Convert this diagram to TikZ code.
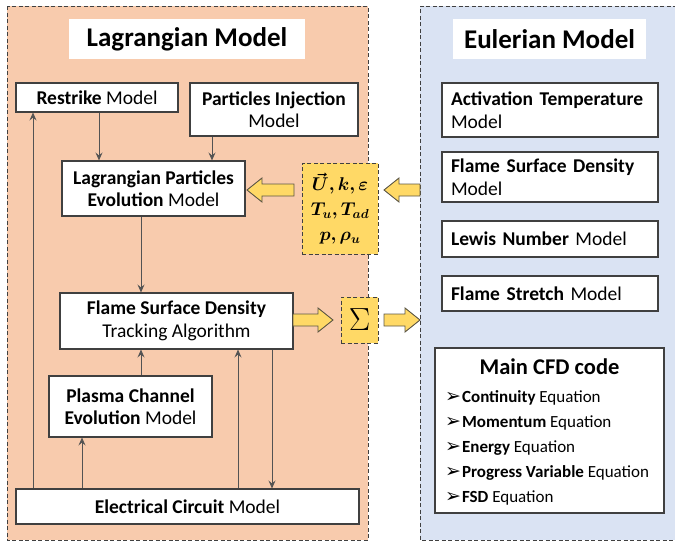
\RequirePackage{fix-cm}
\documentclass[tikz,border=0pt]{standalone}
\usepackage{amsmath,bm}
\usepackage{fontspec}
\setmainfont{Carlito}
\newfontfamily\dejavu{DejaVu Sans}
\usetikzlibrary{arrows.meta}
\definecolor{peach}{HTML}{F8CBAD}
\definecolor{paleblue}{HTML}{DAE3F3}
\definecolor{gold}{HTML}{FFD966}
\definecolor{edge}{HTML}{404040}
\newcommand\barrow[3]{%
  \pgfmathsetmacro\bdir{sign(#2-#1)}%
  \draw[blockarrow] (#1,#3-6) -- (#2-\bdir*15,#3-6) -- (#2-\bdir*15,#3-12) -- (#2,#3)
    -- (#2-\bdir*15,#3+12) -- (#2-\bdir*15,#3+6) -- (#1,#3+6) -- cycle;}
\newcommand\bul{{\dejavu\fontsize{19}{20}\selectfont ➢}}
\begin{document}
\begin{tikzpicture}[x=1pt,y=-1pt,
  outer/.style={draw=edge, line width=1pt, dash pattern=on 4pt off 2.5pt},
  box/.style={draw=edge, line width=1.1pt, fill=white, inner sep=0pt, align=center,
    font=\fontsize{19.5}{22.5}\selectfont},
  ebox/.style={box, minimum width=216, align=left, text width=198},
  title/.style={fill=white, inner sep=0pt, font=\fontsize{27}{32}\selectfont\bfseries},
  ybox/.style={draw=edge, line width=1pt, dash pattern=on 4pt off 2.5pt, fill=gold, inner sep=0pt, align=center},
  conn/.style={draw=edge!90, line width=0.8pt, -{Stealth[length=8pt,width=7pt,inset=3pt]}},
  blockarrow/.style={fill=gold, draw=edge!85!gold, line width=0.9pt, line join=miter},
  item/.style={anchor=base west, inner sep=0pt, font=\fontsize{17}{20}\selectfont}
]
\useasboundingbox (0,0) rectangle (675,541);
\clip (0,0) rectangle (675,541);

% outer panels
\fill[peach] (7,6) rectangle (368,540);
\draw[outer] (7,6) rectangle (368,540);
\fill[paleblue] (420,6) rectangle (690,540);
\draw[outer] (690,6) -- (420,6) -- (420,540) -- (690,540);

% titles
\node[title, minimum width=236, minimum height=40] (tl) at (187,39) {Lagrangian Model};
\node[title, minimum width=193, minimum height=40] (te) at (549.5,39) {Eulerian Model};

% Lagrangian boxes
\node[box, minimum width=162, minimum height=29] (restrike) at (97,97.5) {\textbf{Restrike} Model};
\node[box, minimum width=168, minimum height=53] (inj) at (274,109.5) {\textbf{Particles Injection}\\Model};
\node[box, minimum width=183, minimum height=55] (lpe) at (153.5,188.5) {\textbf{Lagrangian Particles}\\\textbf{Evolution} Model};
\node[box, minimum width=233, minimum height=56] (fsd) at (176.5,321) {\textbf{Flame Surface Density}\\Tracking Algorithm};
\node[box, minimum width=163, minimum height=61] (plasma) at (130.5,406.5) {\textbf{Plasma Channel}\\\textbf{Evolution} Model};
\node[box, minimum width=343, minimum height=35] (elec) at (187.5,506.5) {\textbf{Electrical Circuit} Model};

% exchange boxes
\node[ybox, minimum width=76, minimum height=91, font=\fontsize{18.5}{25}\selectfont] (yel) at (340,208.5)
  {$\bm{\vec{U}, k, \varepsilon}$\\$\bm{T_u, T_{ad}}$\\$\bm{p, \rho_u}$};
\node[ybox, minimum width=37, minimum height=46, font=\fontsize{32}{34}\selectfont] (sig) at (359.5,320) {$\Sigma$};

% Eulerian boxes
\node[ebox, minimum height=54] (act) at (550,110) {\textbf{Activation Temperature}\\Model};
\node[ebox, minimum height=50] (fsdm) at (550,177) {\textbf{Flame Surface Density}\\Model};
\node[ebox, minimum height=36] (lewis) at (550,239) {\textbf{Lewis Number} Model};
\node[ebox, minimum height=35] (stretch) at (550,293.5) {\textbf{Flame Stretch} Model};

% main CFD code
\node[box, minimum width=229, minimum height=165] (cfd) at (549.5,430.5) {};
\node[anchor=base, inner sep=0pt, font=\fontsize{22.5}{26}\selectfont\bfseries] (cfdt) at (549.5,374) {Main CFD code};
\node[item] (i1) at (445,402) {\bul\hspace{1pt}\textbf{Continuity} Equation};
\node[item] (i2) at (445,427) {\bul\hspace{1pt}\textbf{Momentum} Equation};
\node[item] (i3) at (445,452) {\bul\hspace{1pt}\textbf{Energy} Equation};
\node[item] (i4) at (445,477) {\bul\hspace{1pt}\textbf{Progress Variable} Equation};
\node[item] (i5) at (445,502) {\bul\hspace{1pt}\textbf{FSD} Equation};

% x positions of connectors
\coordinate (xa) at (33,0);
\coordinate (xb) at (99,0);
\coordinate (xc) at (212,0);
\coordinate (xd) at (141,0);
\coordinate (xe) at (82,0);
\coordinate (xf) at (238,0);
\coordinate (xg) at (272,0);

\draw[conn] (restrike.south -| xb) -- (lpe.north -| xb);
\draw[conn] (inj.south -| xc) -- (lpe.north -| xc);
\draw[conn] (elec.north -| xa) -- (restrike.south -| xa);
\draw[conn] (lpe.south -| xd) -- (fsd.north -| xd);
\draw[conn] (plasma.north -| xd) -- (fsd.south -| xd);
\draw[conn] (elec.north -| xe) -- (plasma.south -| xe);
\draw[conn] (elec.north -| xf) -- (fsd.south -| xf);
\draw[conn] (fsd.south -| xg) -- (elec.north -| xg);

% block arrows
\barrow{294}{247}{190}
\barrow{420}{384}{190}
\barrow{293}{333}{320}
\barrow{384}{420}{320}
\end{tikzpicture}
\end{document}
